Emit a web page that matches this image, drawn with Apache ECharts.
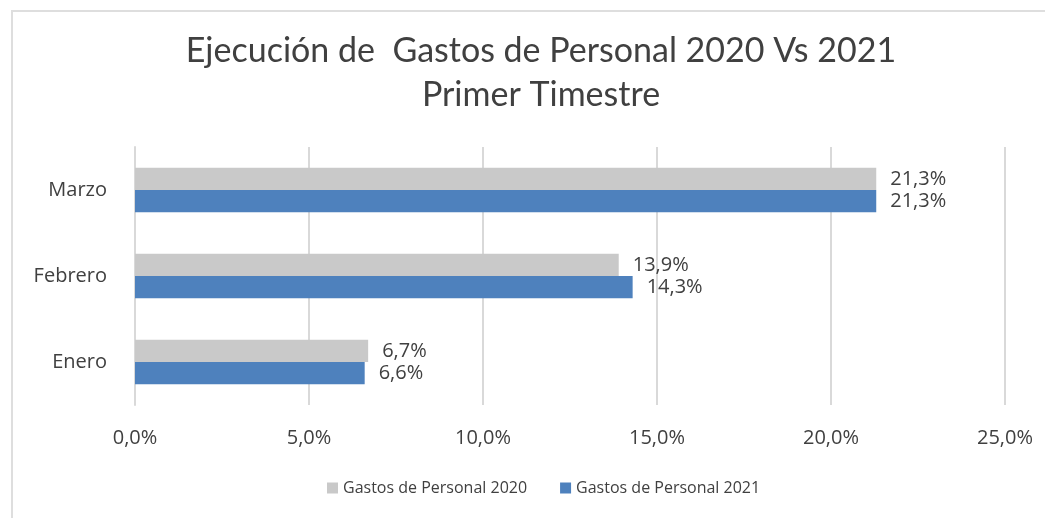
<!DOCTYPE html>
<html>
<head>
<meta charset="utf-8">
<script src="https://cdn.jsdelivr.net/npm/echarts@6/dist/echarts.min.js"></script>
<style>
  html, body { margin: 0; padding: 0; background: #fff; overflow: hidden; }
  #frame { position: absolute; left: 11px; top: 10px; width: 1040px; height: 520px; border: 2px solid #dedede; box-sizing: border-box; }
  #chart { position: absolute; left: 0; top: 0; width: 1045px; height: 518px; }
</style>
</head>
<body>
<div id="frame"></div>
<div id="chart"></div>
<script>
// Data
const categories = ['Enero', 'Febrero', 'Marzo'];
const gastos2020 = [6.7, 13.9, 21.3];
const gastos2021 = [6.6, 14.3, 21.3];
const seriesNames = ['Gastos de Personal 2020', 'Gastos de Personal 2021'];
const ticks = [0, 5, 10, 15, 20, 25];

const pct = v => v.toFixed(1).replace('.', ',') + '%';
const textColor = '#404040';
const labelFont = '"Open Sans", "Noto Sans", sans-serif';

const chart = echarts.init(document.getElementById('chart'), null, { renderer: 'canvas' });

chart.setOption({
    animation: false,
    title: {
        text: 'Ejecución de  Gastos de Personal 2020 Vs 2021\nPrimer Timestre',
        left: 536,
        top: 24,
        textAlign: 'center',
        textStyle: {
            fontFamily: 'Lato, sans-serif',
            fontSize: 34,
            fontWeight: 'normal',
            color: textColor,
            lineHeight: 44
        }
    },
    legend: {
        bottom: 17,
        left: 322,
        itemWidth: 11,
        itemHeight: 11,
        itemGap: 33,
        icon: 'rect',
        textStyle: { fontFamily: labelFont, fontSize: 16, color: textColor }
    },
    grid: { left: 135, right: 40, top: 147, bottom: 113, containLabel: false },
    xAxis: {
        type: 'value',
        min: ticks[0],
        max: ticks[ticks.length - 1],
        interval: 5,
        axisLine: { show: false },
        axisTick: { show: false },
        splitLine: { lineStyle: { color: '#d9d9d9', width: 2 } },
        axisLabel: {
            formatter: v => pct(v),
            fontFamily: labelFont,
            fontSize: 20,
            color: textColor,
            margin: 23
        }
    },
    yAxis: {
        type: 'category',
        data: categories,
        axisLine: { show: true, lineStyle: { color: '#d9d9d9', width: 2 } },
        axisTick: { show: false },
        axisLabel: {
            fontFamily: labelFont,
            fontSize: 20,
            color: textColor,
            margin: 28
        }
    },
    series: [
        {
            name: seriesNames[0],
            type: 'bar',
            data: gastos2020,
            itemStyle: { color: '#c9c9c9' },
            barGap: '0%',
            barCategoryGap: '48%',
            label: {
                show: true, position: 'right', distance: 14,
                formatter: p => pct(p.value),
                fontFamily: labelFont, fontSize: 20, color: textColor
            }
        },
        {
            name: seriesNames[1],
            type: 'bar',
            data: gastos2021,
            itemStyle: { color: '#4e81bd' },
            barGap: '0%',
            barCategoryGap: '48%',
            label: {
                show: true, position: 'right', distance: 14,
                formatter: p => pct(p.value),
                fontFamily: labelFont, fontSize: 20, color: textColor
            }
        }
    ]
});
</script>
</body>
</html>
